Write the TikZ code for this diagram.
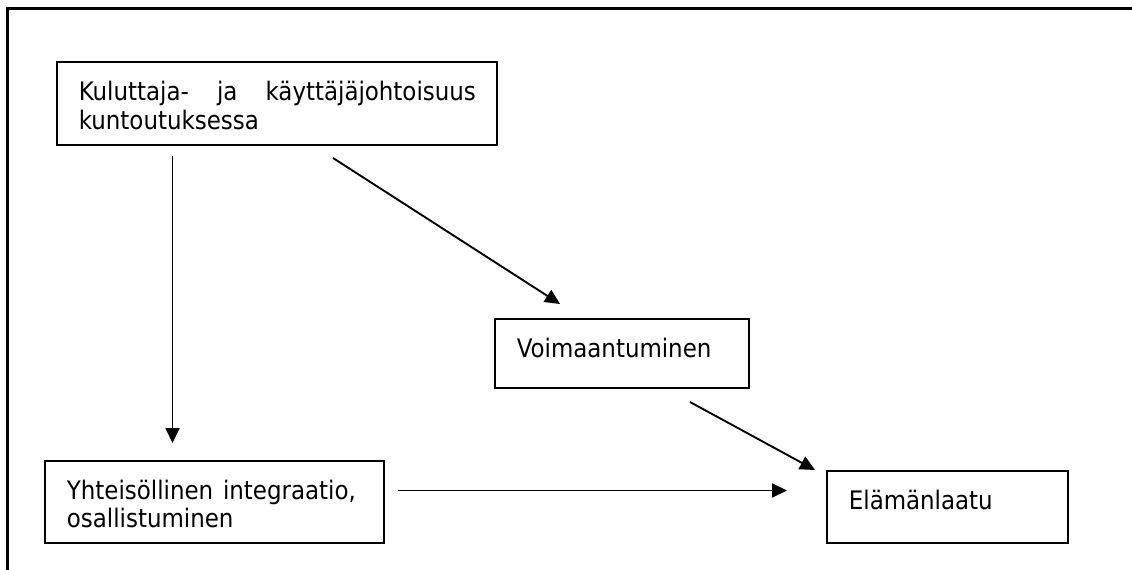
\documentclass[tikz,border=0pt]{standalone}
\usepackage{fontspec}
\setmainfont{DejaVu Sans Condensed}
\usetikzlibrary{arrows.meta}

\begin{document}
\begin{tikzpicture}[x=1pt, y=-1pt,
    box/.style={rectangle, draw, line width=1.8pt, anchor=north west, inner xsep=22pt, inner ysep=0pt, align=left, font=\fontsize{25.5}{28.3}\selectfont},
    arrow/.style={-{Triangle[length=15pt,width=14pt]}, line width=1.9pt}
]
    \useasboundingbox (0,0) rectangle (1132,570);

    % Frame
    \draw[line width=2.6pt] (7.5,570) -- (7.5,8.5) -- (1132,8.5);

    % Boxes
    \node[box, text width=396pt] (kuluttaja) at (56,61) {\rule{0pt}{39pt}\makebox[397pt][l]{Kuluttaja-\hfill ja\hfill käyttäjäjohtoisuus}\\kuntoutuksessa\rule[-15.7pt]{0pt}{0pt}};
    \node[box, text width=210pt] (voima) at (494,318) {\rule{0pt}{39pt}Voimaantuminen\rule[-30pt]{0pt}{0pt}};
    \node[box, text width=295pt] (yhteis) at (44,460) {\rule{0pt}{38.3pt}\makebox[289pt][l]{Yhteisöllinen\hfill integraatio,}\\osallistuminen\rule[-15.4pt]{0pt}{0pt}};
    \node[box, text width=197pt] (elama) at (826,470) {\rule{0pt}{38.3pt}Elämänlaatu\rule[-33.7pt]{0pt}{0pt}};

    % Arrow ends
    \coordinate (kulA) at (172.5,156);
    \coordinate (yhtA) at (172.5,443);
    \coordinate (kulB) at (333,158);
    \coordinate (voiB) at (560,304);
    \coordinate (voiC) at (690,402);
    \coordinate (elaC) at (815,470);
    \coordinate (yhtD) at (398,490.5);
    \coordinate (elaD) at (787,490.5);

    % Arrows
    \draw[arrow] (kulA) -- (yhtA);
    \draw[arrow] (kulB) -- (voiB);
    \draw[arrow] (voiC) -- (elaC);
    \draw[arrow] (yhtD) -- (elaD);
\end{tikzpicture}
\end{document}
